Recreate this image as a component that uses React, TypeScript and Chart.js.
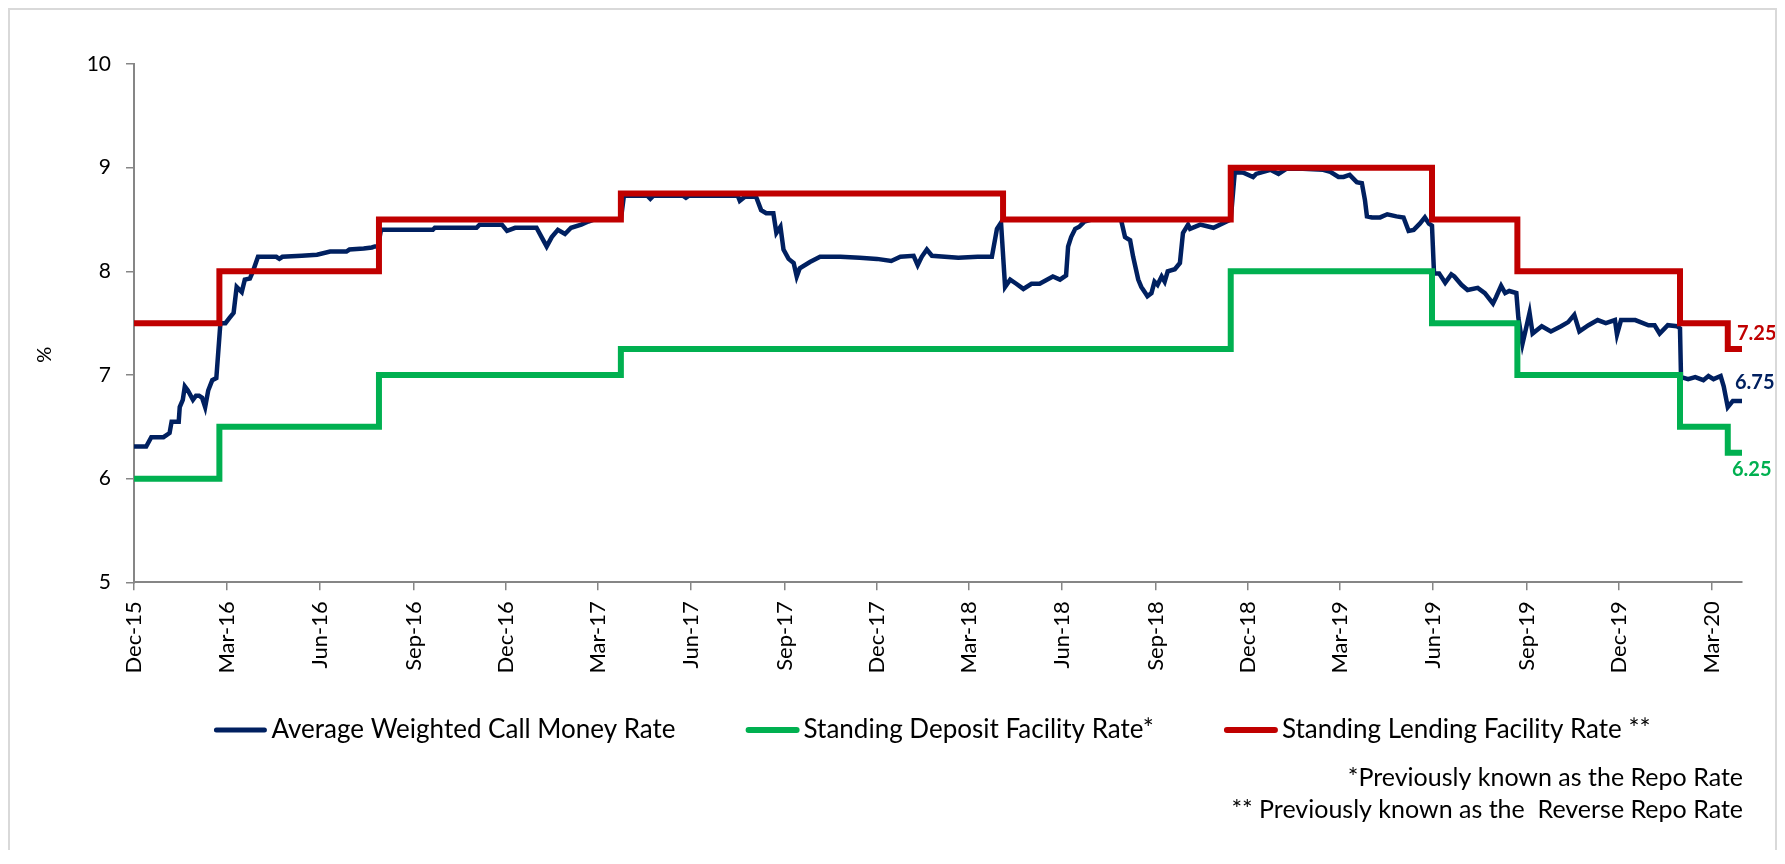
import React, { useEffect, useRef } from "react";
import { Chart, registerables } from "chart.js";
Chart.register(...registerables);

// ---------- data ----------
const xStart = "2015-12-01";
const xEnd = "2020-03-31";
const tickDates = [
  "2015-12-01", "2016-03-01", "2016-06-01", "2016-09-01", "2016-12-01", "2017-03-01",
  "2017-06-01", "2017-09-01", "2017-12-01", "2018-03-01", "2018-06-01", "2018-09-01",
  "2018-12-01", "2019-03-01", "2019-06-01", "2019-09-01", "2019-12-01", "2020-03-01",
];
const tickLabels = [
  "Dec-15", "Mar-16", "Jun-16", "Sep-16", "Dec-16", "Mar-17", "Jun-17", "Sep-17", "Dec-17",
  "Mar-18", "Jun-18", "Sep-18", "Dec-18", "Mar-19", "Jun-19", "Sep-19", "Dec-19", "Mar-20",
];
const yMin = 5;
const yMax = 10;

const seriesNames = [
  "Average Weighted Call Money Rate",
  "Standing Deposit Facility Rate*",
  "Standing Lending Facility Rate **",
];
const footnotes = [
  "*Previously known as the Repo Rate",
  "** Previously known as the  Reverse Repo Rate",
];
const yTitle = "%";

const callDates = [
  "2015-12-01", "2015-12-13", "2015-12-18", "2015-12-30", "2016-01-05", "2016-01-07", "2016-01-14",
  "2016-01-15", "2016-01-18", "2016-01-20", "2016-01-23", "2016-01-28", "2016-01-31", "2016-02-03",
  "2016-02-06", "2016-02-09", "2016-02-12", "2016-02-16", "2016-02-20", "2016-02-24", "2016-02-29",
  "2016-03-04", "2016-03-08", "2016-03-11", "2016-03-16", "2016-03-19", "2016-03-24", "2016-03-27",
  "2016-04-01", "2016-04-19", "2016-04-22", "2016-04-25", "2016-05-14", "2016-05-29", "2016-06-11",
  "2016-06-27", "2016-06-30", "2016-07-14", "2016-07-22", "2016-07-25", "2016-07-28", "2016-07-31",
  "2016-09-20", "2016-09-22", "2016-11-02", "2016-11-05", "2016-11-27", "2016-12-02", "2016-12-10",
  "2016-12-31", "2017-01-05", "2017-01-10", "2017-01-15", "2017-01-21", "2017-01-28", "2017-02-03",
  "2017-02-13", "2017-02-20", "2017-02-26", "2017-03-24", "2017-03-27", "2017-04-19", "2017-04-22",
  "2017-04-25", "2017-05-24", "2017-05-27", "2017-05-30", "2017-07-17", "2017-07-19", "2017-07-24",
  "2017-08-04", "2017-08-09", "2017-08-14", "2017-08-21", "2017-08-24", "2017-08-28", "2017-08-31",
  "2017-09-05", "2017-09-10", "2017-09-13", "2017-09-16", "2017-09-26", "2017-10-06", "2017-10-26",
  "2017-11-14", "2017-12-01", "2017-12-15", "2017-12-24", "2018-01-06", "2018-01-10", "2018-01-14",
  "2018-01-19", "2018-01-24", "2018-02-19", "2018-03-10", "2018-03-24", "2018-03-29", "2018-04-02",
  "2018-04-06", "2018-04-11", "2018-04-17", "2018-04-24", "2018-05-02", "2018-05-10", "2018-05-23",
  "2018-05-30", "2018-06-05", "2018-06-07", "2018-06-10", "2018-06-14", "2018-06-18", "2018-06-23",
  "2018-06-30", "2018-07-29", "2018-08-02", "2018-08-07", "2018-08-10", "2018-08-15", "2018-08-18",
  "2018-08-22", "2018-08-24", "2018-08-28", "2018-08-31", "2018-09-03", "2018-09-07", "2018-09-10",
  "2018-09-13", "2018-09-20", "2018-09-25", "2018-09-28", "2018-10-03", "2018-10-05", "2018-10-15",
  "2018-10-28", "2018-11-10", "2018-11-14", "2018-11-18", "2018-11-27", "2018-12-06", "2018-12-09",
  "2018-12-16", "2018-12-23", "2018-12-31", "2019-01-08", "2019-01-24", "2019-02-13", "2019-02-20",
  "2019-02-28", "2019-03-05", "2019-03-11", "2019-03-18", "2019-03-23", "2019-03-26", "2019-03-28",
  "2019-04-02", "2019-04-10", "2019-04-17", "2019-04-26", "2019-05-03", "2019-05-08", "2019-05-13",
  "2019-05-19", "2019-05-24", "2019-05-28", "2019-05-31", "2019-06-02", "2019-06-07", "2019-06-13",
  "2019-06-19", "2019-06-22", "2019-06-29", "2019-07-05", "2019-07-15", "2019-07-22", "2019-07-30",
  "2019-08-02", "2019-08-07", "2019-08-11", "2019-08-15", "2019-08-22", "2019-08-24", "2019-08-28",
  "2019-09-01", "2019-09-04", "2019-09-07", "2019-09-16", "2019-09-25", "2019-10-05", "2019-10-12",
  "2019-10-18", "2019-10-23", "2019-11-01", "2019-11-10", "2019-11-18", "2019-11-27", "2019-11-29",
  "2019-12-03", "2019-12-17", "2019-12-30", "2020-01-05", "2020-01-10", "2020-01-18", "2020-01-27",
  "2020-01-30", "2020-01-31", "2020-02-07", "2020-02-14", "2020-02-22", "2020-02-27", "2020-03-03",
  "2020-03-10", "2020-03-13", "2020-03-17", "2020-03-22", "2020-03-31",
];
const callRates = [
  6.31, 6.31, 6.40, 6.40, 6.44, 6.55, 6.55,
  6.69, 6.76, 6.89, 6.85, 6.76, 6.80, 6.80,
  6.78, 6.69, 6.85, 6.95, 6.97, 7.50, 7.50,
  7.55, 7.60, 7.85, 7.80, 7.92, 7.93, 8.00,
  8.14, 8.14, 8.12, 8.14, 8.15, 8.16, 8.19,
  8.19, 8.21, 8.22, 8.23, 8.24, 8.24, 8.40,
  8.40, 8.42, 8.42, 8.45, 8.45, 8.39, 8.42,
  8.42, 8.33, 8.24, 8.33, 8.40, 8.36, 8.42,
  8.45, 8.48, 8.50, 8.50, 8.73, 8.73, 8.70,
  8.73, 8.73, 8.71, 8.73, 8.73, 8.68, 8.72,
  8.72, 8.59, 8.56, 8.56, 8.37, 8.43, 8.21,
  8.12, 8.08, 7.95, 8.03, 8.09, 8.14, 8.14,
  8.13, 8.12, 8.10, 8.14, 8.15, 8.06, 8.14,
  8.21, 8.15, 8.13, 8.14, 8.14, 8.41, 8.47,
  7.85, 7.92, 7.88, 7.83, 7.88, 7.88, 7.95,
  7.92, 7.96, 8.24, 8.33, 8.41, 8.43, 8.48,
  8.50, 8.50, 8.33, 8.30, 8.14, 7.92, 7.85,
  7.79, 7.76, 7.79, 7.90, 7.87, 7.95, 7.90,
  8.00, 8.02, 8.08, 8.37, 8.45, 8.41, 8.45,
  8.42, 8.48, 8.50, 8.96, 8.95, 8.91, 8.94,
  8.96, 8.98, 8.94, 8.99, 8.99, 8.98, 8.96,
  8.91, 8.91, 8.93, 8.86, 8.85, 8.69, 8.53,
  8.52, 8.52, 8.55, 8.53, 8.52, 8.39, 8.40,
  8.46, 8.52, 8.46, 8.44, 7.98, 7.98, 7.89,
  7.97, 7.95, 7.87, 7.82, 7.84, 7.79, 7.69,
  7.75, 7.86, 7.79, 7.81, 7.79, 7.55, 7.30,
  7.47, 7.60, 7.40, 7.47, 7.42, 7.47, 7.51,
  7.58, 7.42, 7.48, 7.53, 7.50, 7.53, 7.39,
  7.53, 7.53, 7.48, 7.48, 7.40, 7.48, 7.47,
  7.45, 6.98, 6.96, 6.98, 6.95, 6.99, 6.96,
  6.99, 6.89, 6.69, 6.75, 6.75,
];

const sdfDates = [
  "2015-12-01", "2016-02-23", "2016-07-29", "2017-03-24", "2018-11-14",
  "2019-05-31", "2019-08-23", "2020-01-30", "2020-03-17", "2020-03-31",
];
const sdfRates = [6.0, 6.5, 7.0, 7.25, 8.0, 7.5, 7.0, 6.5, 6.25, 6.25];

const slfDates = [
  "2015-12-01", "2016-02-23", "2016-07-29", "2017-03-24", "2018-04-04", "2018-11-14",
  "2019-05-31", "2019-08-23", "2020-01-30", "2020-03-17", "2020-03-31",
];
const slfRates = [7.5, 8.0, 8.5, 8.75, 8.5, 9.0, 8.5, 8.0, 7.5, 7.25, 7.25];

const colors = ["#002060", "#00B050", "#C00000"];
const FONT = "Lato";

// ---------- helpers ----------
const dayOf = (s: string) =>
  Date.UTC(+s.slice(0, 4), +s.slice(5, 7) - 1, +s.slice(8, 10)) / 86400000;
const toPoints = (dates: string[], vals: number[]) =>
  dates.map((d, i) => ({ x: dayOf(d), y: vals[i] }));

const overlayPlugin = {
  id: "overlay",
  afterDraw(chart: any) {
    const { ctx, chartArea, scales } = chart;
    const xs = scales.x;
    const ys = scales.y;
    ctx.save();

    // y-axis title
    ctx.save();
    ctx.translate(35, chartArea.top + 0.561 * (chartArea.bottom - chartArea.top));
    ctx.rotate(-Math.PI / 2);
    ctx.font = `20px ${FONT}`;
    ctx.fillStyle = "#000";
    ctx.textAlign = "center";
    ctx.textBaseline = "middle";
    ctx.fillText(yTitle, 0, 0);
    ctx.restore();

    // legend
    ctx.font = `26px ${FONT}`;
    ctx.textBaseline = "middle";
    ctx.textAlign = "left";
    const sample = 54;
    const gapT = 4;
    const gapItem = 70;
    const widths = seriesNames.map((n) => ctx.measureText(n).width);
    const total =
      widths.reduce((a, b) => a + b, 0) + seriesNames.length * (sample + gapT) + (seriesNames.length - 1) * gapItem;
    let x = (chartArea.left + chartArea.right) / 2 - 6 - total / 2;
    const ly = 720;
    seriesNames.forEach((n, i) => {
      ctx.beginPath();
      ctx.strokeStyle = colors[i];
      ctx.lineWidth = i === 0 ? 5 : 6;
      ctx.lineCap = "round";
      ctx.moveTo(x + 3, ly);
      ctx.lineTo(x + sample - 3, ly);
      ctx.stroke();
      ctx.fillStyle = "#000";
      ctx.fillText(n, x + sample + gapT, ly);
      x += sample + gapT + widths[i] + gapItem;
    });

    // footnotes
    ctx.textAlign = "right";
    ctx.fillStyle = "#000";
    ctx.font = `25px ${FONT}`;
    ctx.fillText(footnotes[0], chartArea.right + 1, 768);
    ctx.fillText(footnotes[1], chartArea.right + 1, 800);

    // end-value labels
    const lastX = xs.getPixelForValue(dayOf(xEnd));
    ctx.textAlign = "left";
    ctx.font = `bold 20px ${FONT}`;
    const slfLast = slfRates[slfRates.length - 1];
    const callLast = callRates[callRates.length - 1];
    const sdfLast = sdfRates[sdfRates.length - 1];
    ctx.fillStyle = colors[2];
    ctx.fillText(slfLast.toFixed(2), lastX - 5, ys.getPixelForValue(slfLast) - 16);
    ctx.fillStyle = colors[0];
    ctx.fillText(callLast.toFixed(2), lastX - 7, ys.getPixelForValue(callLast) - 18);
    ctx.fillStyle = colors[1];
    ctx.fillText(sdfLast.toFixed(2), lastX - 10, ys.getPixelForValue(sdfLast) + 17);

    ctx.restore();
  },
};

export default function App() {
  const ref = useRef<HTMLCanvasElement>(null);

  useEffect(() => {
    if (!ref.current) return;
    const axisColor = "#868686";
    const chart = new Chart(ref.current, {
      type: "line",
      data: {
        datasets: [
          {
            label: seriesNames[0],
            data: toPoints(callDates, callRates),
            borderColor: colors[0],
            backgroundColor: colors[0],
            borderWidth: 4.5,
            pointRadius: 0,
            tension: 0,
            order: 3,
          },
          {
            label: seriesNames[1],
            data: toPoints(sdfDates, sdfRates),
            borderColor: colors[1],
            backgroundColor: colors[1],
            borderWidth: 6,
            pointRadius: 0,
            stepped: "before",
            order: 2,
          },
          {
            label: seriesNames[2],
            data: toPoints(slfDates, slfRates),
            borderColor: colors[2],
            backgroundColor: colors[2],
            borderWidth: 6,
            pointRadius: 0,
            stepped: "before",
            order: 1,
          },
        ],
      },
      options: {
        animation: false,
        responsive: false,
        devicePixelRatio: 1,
        layout: { padding: { left: 0, right: 33, top: 54, bottom: 157.7 } },
        plugins: {
          legend: { display: false },
          tooltip: { enabled: false },
        },
        scales: {
          x: {
            type: "linear",
            min: dayOf(xStart),
            max: dayOf(xEnd),
            afterBuildTicks: (scale: any) => {
              scale.ticks = tickDates.map((d) => ({ value: dayOf(d) }));
            },
            afterFit: (scale: any) => {
              scale.height = 110;
            },
            grid: {
              drawOnChartArea: false,
              drawTicks: true,
              tickLength: 8,
              color: axisColor,
              lineWidth: 1.5,
            },
            border: { display: true, color: axisColor, width: 2 },
            ticks: {
              autoSkip: false,
              minRotation: 90,
              maxRotation: 90,
              padding: 11,
              color: "#000",
              font: { family: FONT, size: 22 },
              callback: (_v: any, i: number) => tickLabels[i],
            },
          },
          y: {
            min: yMin,
            max: yMax,
            afterFit: (scale: any) => {
              scale.width = 124;
            },
            grid: {
              drawOnChartArea: false,
              drawTicks: true,
              tickLength: 8,
              color: axisColor,
              lineWidth: 1.5,
            },
            border: { display: true, color: axisColor, width: 2 },
            ticks: {
              stepSize: 1,
              padding: 15,
              color: "#000",
              font: { family: FONT, size: 21 },
            },
          },
        },
      },
      plugins: [overlayPlugin],
    } as any);
    return () => chart.destroy();
  }, []);

  return (
    <div
      style={{
        width: 1765,
        height: 840,
        borderTop: "2px solid #d9d9d9",
        borderLeft: "2px solid #d9d9d9",
        borderRight: "2px solid #d9d9d9",
        background: "#fff",
      }}
    >
      <canvas ref={ref} width={1765} height={840} style={{ display: "block" }} />
    </div>
  );
}
